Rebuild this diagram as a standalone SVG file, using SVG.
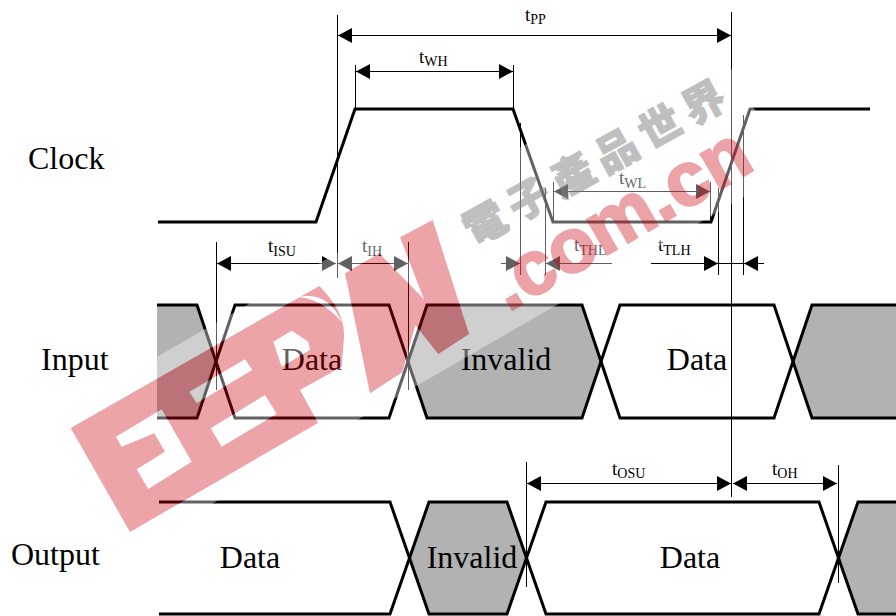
<svg xmlns="http://www.w3.org/2000/svg" width="896" height="616" viewBox="0 0 896 616">
<defs>
<style>
.wave{fill:none;stroke:#000;stroke-width:3;stroke-linejoin:miter}
.inv{fill:#b2b2b2;stroke:none}
.ref{stroke:#000;stroke-width:1;fill:none}
.dim{stroke:#000;stroke-width:1;fill:none;marker-start:url(#ah);marker-end:url(#ah)}
.dimr{stroke:#000;stroke-width:1;fill:none}
text{font-family:"Liberation Serif","Times New Roman",serif;fill:#000}
.big{font-size:32px}
.lab{font-size:19px}
.lab tspan{font-size:14px}
.mid{text-anchor:middle}
</style>
<marker id="ah" markerUnits="userSpaceOnUse" markerWidth="15" markerHeight="15" refX="14" refY="7.5" orient="auto-start-reverse"><path d="M0,0L14,7.5L0,15Z" fill="#000"/></marker>
</defs>
<rect width="896" height="616" fill="#fff"/>
<g id="clock">
<path class="wave" d="M158,222H316L355,109H513L553,222H711L750,109H870"/>
<text class="big" x="28" y="169">Clock</text>
</g>
<g id="input">
<path class="inv" d="M157,305H197L216,361L197,418H157Z"/>
<path class="inv" d="M427,305H582L601,361L582,418H427L408,361Z"/>
<path class="inv" d="M812,305H896V418H812L793,361Z"/>
<path class="wave" d="M157,305H197L235,418H389L427,305H582L620,418H774L812,305H896"/>
<path class="wave" d="M157,418H197L235,305H389L427,418H582L620,305H774L812,418H896"/>
<text class="big" x="41" y="370">Input</text>
<text class="big mid" x="312" y="370">Data</text>
<text class="big mid" x="506" y="370">Invalid</text>
<text class="big mid" x="697" y="370">Data</text>
</g>
<g id="output">
<path class="inv" d="M429,502H507L526,558L507,614H429L409,558Z"/>
<path class="inv" d="M858,502H896V614H858L838,558Z"/>
<path class="wave" d="M159,502H390L429,614H507L546,502H819L858,614H896"/>
<path class="wave" d="M159,614H390L429,502H507L546,614H819L858,502H896"/>
<text class="big" x="11" y="565">Output</text>
<text class="big mid" x="250" y="568">Data</text>
<text class="big mid" x="472" y="568">Invalid</text>
<text class="big mid" x="690" y="568">Data</text>
</g>
<g id="connectors">
<path class="ref" d="M337.500,15V278M731.500,12V497M513.500,65V109M355.500,65V109M216.500,242V390M408.500,242V390M520.500,123V275M545.500,188V275M553.500,182V222M710.500,182V222M718.500,188V275M743.500,115V275M526.500,462V587M838.500,465V583"/>
<line class="dim" x1="338" y1="35.500" x2="731" y2="35.500"/>
<line class="dim" x1="356" y1="71.500" x2="513" y2="71.500"/>
<line class="dim" x1="217" y1="263.500" x2="336" y2="263.500"/>
<line class="dim" x1="338" y1="263.500" x2="408" y2="263.500"/>
<line class="dim" x1="554" y1="191.500" x2="710" y2="191.500"/>
<line class="dim" x1="527" y1="483.500" x2="731" y2="483.500"/>
<line class="dim" x1="733" y1="483.500" x2="837" y2="483.500"/>
<line class="dimr" x1="501" y1="263.500" x2="520" y2="263.500" marker-end="url(#ah)"/>
<line class="dimr" x1="612" y1="263.500" x2="546" y2="263.500" marker-end="url(#ah)"/>
<line class="dimr" x1="651" y1="263.500" x2="718" y2="263.500" marker-end="url(#ah)"/>
<line class="dimr" x1="764" y1="263.500" x2="744" y2="263.500" marker-end="url(#ah)"/>
<line class="dimr" x1="718" y1="263.500" x2="744" y2="263.500"/>
</g>
<g id="labels">
<text class="lab" x="525" y="21">t<tspan dy="3">PP</tspan></text>
<text class="lab" x="419" y="63">t<tspan dy="3">WH</tspan></text>
<text class="lab" x="268" y="252">t<tspan dy="4">ISU</tspan></text>
<text class="lab" x="362" y="252">t<tspan dy="4">IH</tspan></text>
<text class="lab" x="619" y="184">t<tspan dy="4">WL</tspan></text>
<text class="lab" x="574" y="251">t<tspan dy="4">THL</tspan></text>
<text class="lab" x="658" y="251">t<tspan dy="4">TLH</tspan></text>
<text class="lab" x="612" y="475">t<tspan dy="3">OSU</tspan></text>
<text class="lab" x="772" y="475">t<tspan dy="3">OH</tspan></text>
</g>
<g id="watermark">
<path fill="#fff" fill-opacity=".38" fill-rule="evenodd" d="M44,422L712.500,36.600L790,170.500L121.500,556Z
M70.700,428L319.300,286C333,300 345,316 344,337L341.700,366.700L300,390L318,423L130,532Z
M116,436.700L161.700,409.300L191.700,461.700L148.300,489L136.700,469.300L165,451.700L154.300,433.300L121.700,446.700Z
M189.300,391.700L245,359.300L252.300,370L196.700,403.300Z
M210.700,428.300L265,395L276.700,414L221.700,446.700Z
M273.300,341.700L291.700,330.700L308.300,341.700L310,350L281.700,366.700Z
M298.300,297.300Q326.700,290 342,322Q320,298 298.300,297.300Z
M345,273.300L379.300,253.300L424,299.300L400,237.300L432.700,220L469,334L438.300,354L415.300,325L402.300,372.300L370,393.300Z"/>
<path fill="rgb(203,3,14)" fill-opacity=".36" fill-rule="evenodd" d="M70.700,428L319.300,286C333,300 345,316 344,337L341.700,366.700L300,390L318,423L130,532Z
M116,436.700L161.700,409.300L191.700,461.700L148.300,489L136.700,469.300L165,451.700L154.300,433.300L121.700,446.700Z
M189.300,391.700L245,359.300L252.300,370L196.700,403.300Z
M210.700,428.300L265,395L276.700,414L221.700,446.700Z
M273.300,341.700L291.700,330.700L308.300,341.700L310,350L281.700,366.700Z
M298.300,297.300Q326.700,290 342,322Q320,298 298.300,297.300Z
M345,273.300L379.300,253.300L424,299.300L400,237.300L432.700,220L469,334L438.300,354L415.300,325L402.300,372.300L370,393.300Z"/>
<g opacity=".36"><text transform="translate(508,312) rotate(-30)" style="font-family:'Liberation Sans',Arial,sans-serif;font-weight:700;font-size:76px;fill:rgb(203,3,14);stroke:rgb(203,3,14);stroke-width:2.500px">.com.cn</text></g>
<g opacity=".5"><text transform="translate(474,247) rotate(-29)" style="font-family:'Noto Sans CJK TC','Noto Sans CJK SC',sans-serif;font-weight:900;font-size:42px;letter-spacing:8px;fill:#808080;stroke:#808080;stroke-width:1px">電子產品世界</text></g>
</g>
</svg>
